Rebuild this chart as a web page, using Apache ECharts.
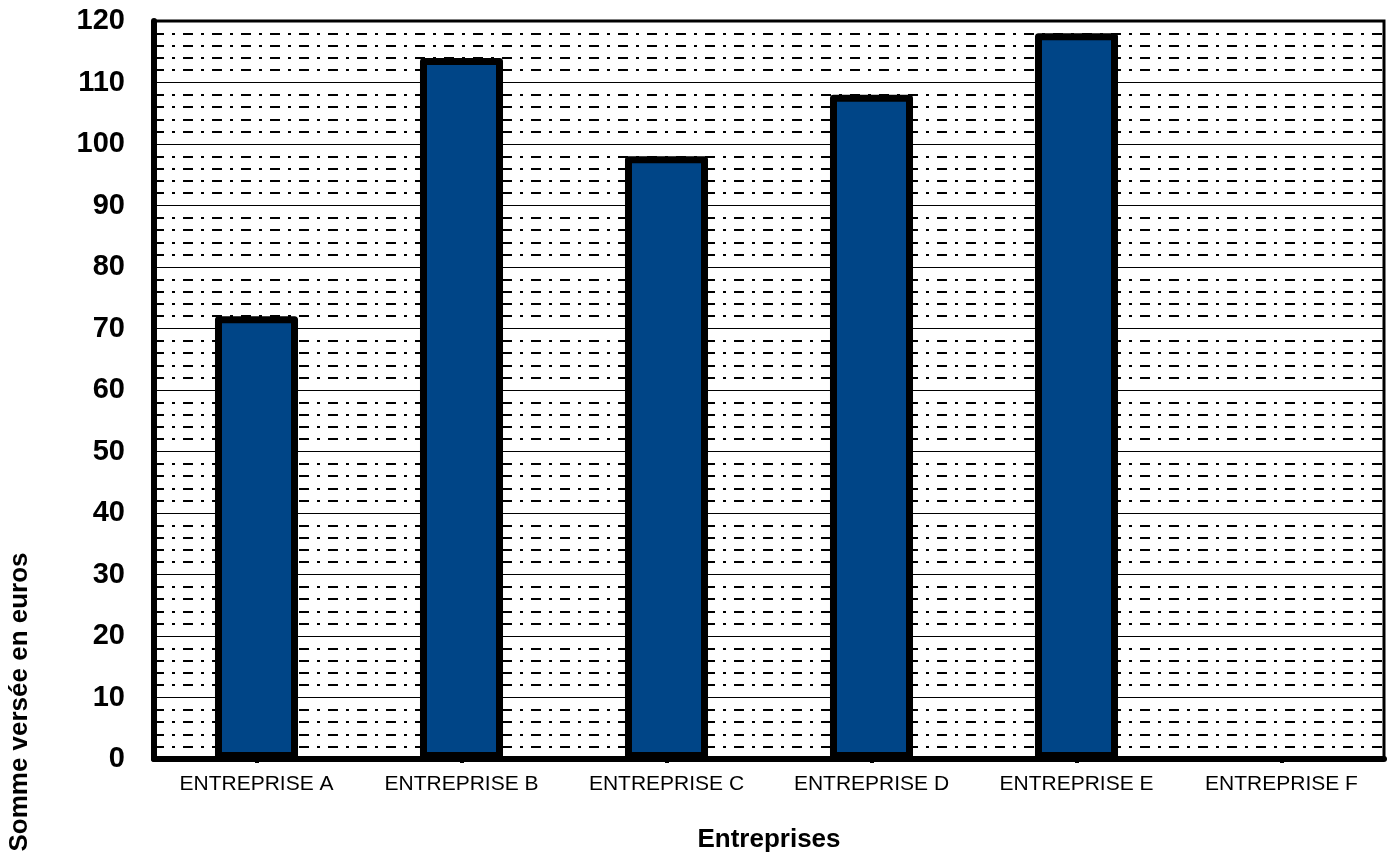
<!DOCTYPE html>
<html><head><meta charset="utf-8">
<script src="https://cdn.jsdelivr.net/npm/echarts@6/dist/echarts.min.js"></script>
<style>html,body{margin:0;padding:0;background:#fff}#c{width:1394px;height:858px}</style>
</head><body><div id="c"></div>
<script>
const categories = ['ENTREPRISE A','ENTREPRISE B','ENTREPRISE C','ENTREPRISE D','ENTREPRISE E','ENTREPRISE F'];
const values = [72, 114, 98, 108, 118, 0];
const yTicks = [0,10,20,30,40,50,60,70,80,90,100,110,120];
const yAxisTitle = 'Somme versée en euros';
const xAxisTitle = 'Entreprises';

const FONT = '"Liberation Sans", Arial, sans-serif';
const chart = echarts.init(document.getElementById('c'));
chart.setOption({
  animation: false,
  backgroundColor: '#fff',
  grid: {left: 154, right: 10, top: 21, bottom: 98, show: true, borderColor: '#000', borderWidth: 3, backgroundColor: 'transparent'},
  xAxis: {
    type: 'category', data: categories,
    name: xAxisTitle, nameLocation: 'middle', nameGap: 68,
    nameTextStyle: {fontFamily: FONT, fontSize: 26, fontWeight: 'bold', color: '#000'},
    axisLine: {lineStyle: {color: '#000', width: 6}},
    axisTick: {show: true, alignWithLabel: true, length: 4, lineStyle: {color: '#000', width: 4}},
    axisLabel: {fontFamily: FONT, fontSize: 21, color: '#000', margin: 15},
    splitLine: {show: false}
  },
  yAxis: {
    type: 'value', min: yTicks[0], max: yTicks[yTicks.length-1], interval: 10,
    axisLine: {show: true, lineStyle: {color: '#000', width: 6}},
    axisTick: {show: false},
    axisLabel: {fontFamily: FONT, fontSize: 29, fontWeight: 'bold', color: '#000', margin: 29},
    splitLine: {show: true, lineStyle: {color: '#000', width: 1}},
    minorTick: {show: false, splitNumber: 5},
    minorSplitLine: {show: true, lineStyle: {color: '#000', width: 2, type: [10, 8, 3, 8]}}
  },
  graphic: [{
    type: 'text', x: 20, y: 702, rotation: Math.PI/2,
    style: {text: yAxisTitle, fontFamily: FONT, fontSize: 26, fontWeight: 'bold', fill: '#000', textAlign: 'center', textVerticalAlign: 'middle'}
  }],
  series: [{
    type: 'bar',
    data: values.map(v => v === 0 ? {value: v, itemStyle: {borderWidth: 0}} : v),
    barWidth: '40.5%',
    itemStyle: {color: '#004587', borderColor: '#000', borderWidth: 7, borderJoin: 'round'}
  }]
});
</script></body></html>
